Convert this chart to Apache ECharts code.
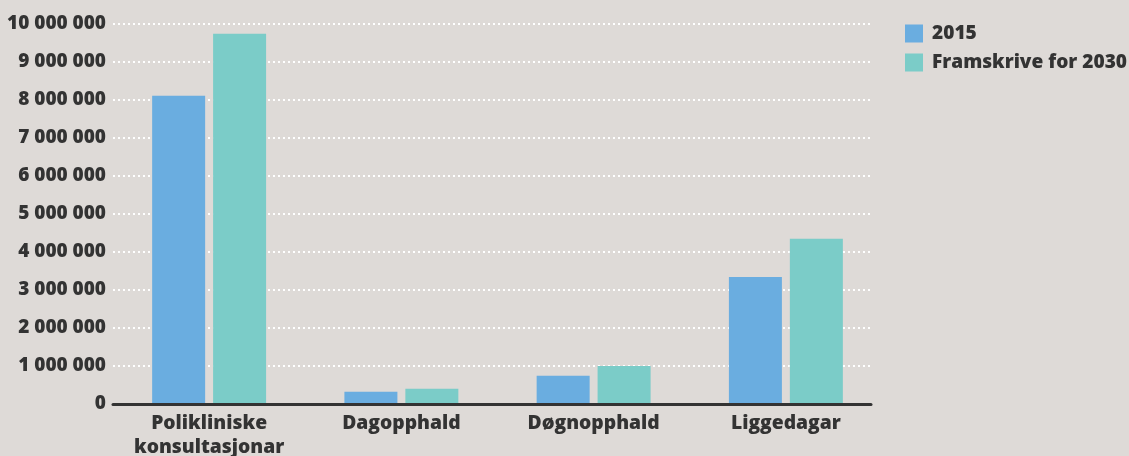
<!DOCTYPE html>
<html>
<head>
<meta charset="utf-8">
<script src="https://cdn.jsdelivr.net/npm/echarts@6/dist/echarts.min.js"></script>
<style>
html,body{margin:0;padding:0;background:#dedad7;}
#chart{width:1129px;height:456px;}
</style>
</head>
<body>
<div id="chart"></div>
<script>
const categories = ['Polikliniske\nkonsultasjonar', 'Dagopphald', 'Døgnopphald', 'Liggedagar'];
const seriesNames = ['2015', 'Framskrive for 2030'];
const values2015 = [8100000, 320000, 740000, 3340000];
const values2030 = [9730000, 400000, 1000000, 4340000];
const yMin = 0, yMax = 10000000, yInterval = 1000000;

const FONT = 'Open Sans';
const TXT = '#333333';
const fmt = v => String(v).replace(/\B(?=(\d{3})+(?!\d))/g, ' ');

const chart = echarts.init(document.getElementById('chart'));
chart.setOption({
  backgroundColor: '#dedad7',
  animation: false,
  color: ['#6aade0', '#7bccc8'],
  legend: {
    orient: 'vertical', left: 900, top: 19,
    itemWidth: 18, itemHeight: 18, itemGap: 10, icon: 'rect',
    data: seriesNames,
    textStyle: { fontFamily: FONT, fontWeight: 800, fontSize: 19.1, color: TXT, padding: [0, 0, 0, 4] }
  },
  grid: [
    { left: 113, width: 769, top: 23.5, bottom: 52, outerBoundsMode: 'none', containLabel: false },
    { left: 113, width: 758, top: 23.5, bottom: 52, outerBoundsMode: 'none', containLabel: false }
  ],
  xAxis: [
    { type: 'category', gridIndex: 0, data: categories,
      axisLine: { show: false }, axisTick: { show: false },
      axisLabel: { margin: 7, fontFamily: FONT, fontWeight: 800, fontSize: 19.3, lineHeight: 24.5, color: TXT, interval: 0 } },
    { type: 'category', gridIndex: 1, data: categories, z: 5,
      axisLine: { show: true, lineStyle: { color: '#333333', width: 3 } },
      axisTick: { show: false }, axisLabel: { show: false } }
  ],
  yAxis: [
    { type: 'value', gridIndex: 0, min: yMin, max: yMax, interval: yInterval, show: false, splitLine: { show: false } },
    { type: 'value', gridIndex: 1, min: yMin, max: yMax, interval: yInterval,
      axisLine: { show: false }, axisTick: { show: false },
      axisLabel: { margin: 7, formatter: fmt, fontFamily: FONT, fontWeight: 800, fontSize: 19, color: TXT },
      splitLine: { show: true, lineStyle: { color: '#ffffff', width: 2, type: [2, 3] } } }
  ],
  series: [
    { name: seriesNames[0], type: 'bar', xAxisIndex: 0, yAxisIndex: 0, data: values2015, barWidth: 53, barGap: '15%', z: 2 },
    { name: seriesNames[1], type: 'bar', xAxisIndex: 0, yAxisIndex: 0, data: values2030, barWidth: 53, barGap: '15%', z: 2 }
  ]
});
</script>
</body>
</html>
